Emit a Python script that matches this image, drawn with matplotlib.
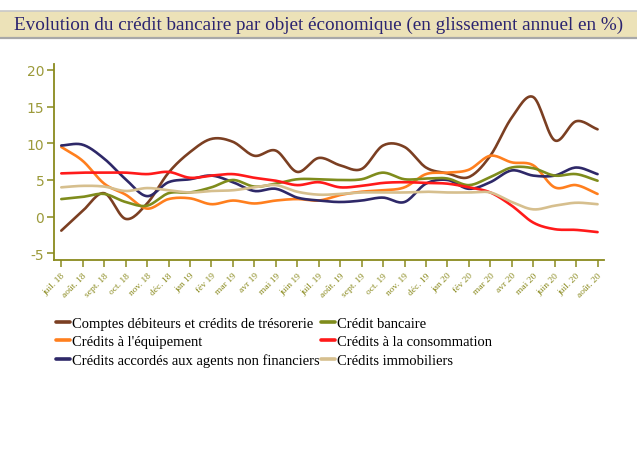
import numpy as np
import matplotlib
matplotlib.use("Agg")
import matplotlib.pyplot as plt
from matplotlib.patches import Rectangle
from matplotlib.lines import Line2D

plt.rcParams['axes.unicode_minus'] = False

months = ["juil. 18", "août. 18", "sept. 18", "oct. 18", "nov. 18", "déc. 18",
          "jan 19", "fév 19", "mar 19", "avr 19", "mai 19", "juin 19",
          "juil. 19", "août. 19", "sept. 19", "oct. 19", "nov. 19", "déc. 19",
          "jan 20", "fév 20", "mar 20", "avr 20", "mai 20", "juin 20",
          "juil. 20", "août. 20"]

comptes = [-1.9, 0.8, 3.2, -0.3, 1.8, 6.0, 8.8, 10.6, 10.2, 8.3, 9.0, 6.1, 8.0,
           7.0, 6.5, 9.7, 9.5, 6.7, 5.9, 5.4, 8.3, 13.5, 16.3, 10.4, 13.0, 11.9]
credit_bancaire = [2.4, 2.7, 3.1, 2.0, 1.5, 3.2, 3.3, 4.0, 5.0, 4.1, 4.5, 5.1, 5.1,
                   5.0, 5.1, 6.0, 5.1, 5.2, 5.2, 4.3, 5.4, 6.7, 6.6, 5.6, 5.8, 4.9]
equipement = [9.5, 7.6, 4.5, 3.0, 1.1, 2.4, 2.5, 1.7, 2.2, 1.8, 2.2, 2.4, 2.2,
              2.95, 3.4, 3.6, 4.0, 5.8, 6.0, 6.4, 8.3, 7.4, 7.0, 4.0, 4.3, 3.1]
consommation = [5.9, 6.0, 6.0, 6.0, 5.8, 6.1, 5.3, 5.6, 5.8, 5.3, 4.9, 4.3, 4.7,
                4.0, 4.2, 4.6, 4.7, 4.6, 4.5, 4.0, 3.3, 1.5, -0.8, -1.7, -1.8, -2.1]
agents_nf = [9.7, 9.8, 7.9, 5.1, 2.8, 4.7, 5.1, 5.6, 4.7, 3.5, 3.8, 2.6, 2.2,
             2.0, 2.2, 2.6, 2.0, 4.5, 5.0, 3.8, 4.7, 6.3, 5.6, 5.6, 6.7, 5.8]
immobiliers = [4.0, 4.2, 4.1, 3.5, 3.9, 3.6, 3.3, 3.5, 3.6, 4.0, 4.3, 3.4, 3.0,
               3.1, 3.3, 3.3, 3.3, 3.4, 3.3, 3.3, 3.3, 2.0, 1.0, 1.5, 1.9, 1.7]

# order = legend column-wise fill (col 1 then col 2)
series = [
    ("Comptes débiteurs et crédits de trésorerie", comptes, "#7b3f22"),
    ("Crédits à l'équipement", equipement, "#ff7f1e"),
    ("Crédits accordés aux agents non financiers", agents_nf, "#2e2868"),
    ("Crédit bancaire", credit_bancaire, "#7f8c1c"),
    ("Crédits à la consommation", consommation, "#ff1a1a"),
    ("Crédits immobiliers", immobiliers, "#d6bf8e"),
]


def smooth(x, y, n=16):
    # catmull-rom curve through the points, only for drawing
    x = np.asarray(x, float)
    y = np.asarray(y, float)
    xp = np.concatenate([[2 * x[0] - x[1]], x, [2 * x[-1] - x[-2]]])
    yp = np.concatenate([[2 * y[0] - y[1]], y, [2 * y[-1] - y[-2]]])
    t = np.linspace(0, 1, n, endpoint=False)
    xs, ys = [], []
    for i in range(1, len(xp) - 2):
        for arr, out in ((xp, xs), (yp, ys)):
            p0, p1, p2, p3 = arr[i - 1], arr[i], arr[i + 1], arr[i + 2]
            out.append(0.5 * (2 * p1 + (-p0 + p2) * t
                              + (2 * p0 - 5 * p1 + 4 * p2 - p3) * t ** 2
                              + (-p0 + 3 * p1 - 3 * p2 + p3) * t ** 3))
    xs.append([x[-1]])
    ys.append([y[-1]])
    return np.concatenate(xs), np.concatenate(ys)


fig = plt.figure(figsize=(6.37, 4.52), dpi=100)

# title band
fig.patches.append(Rectangle((0, 1 - 38 / 452), 1, 26 / 452, transform=fig.transFigure,
                             facecolor="#ece2b8", edgecolor="none", zorder=0))
fig.add_artist(Line2D([0, 1], [1 - 12 / 452] * 2, color="#c8c8c8", lw=1.2))
fig.add_artist(Line2D([0, 1], [1 - 38.5 / 452] * 2, color="#a8a8a8", lw=1.6))
fig.text(0.5, 1 - 25.5 / 452, "Evolution du crédit bancaire par objet économique (en glissement annuel en %)",
         ha="center", va="center", fontsize=13.8, color="#2b2470",
         family="Liberation Serif")

ax = fig.add_axes([54 / 637, 1 - 261 / 452, 550 / 637, 196 / 452])
x = np.arange(len(months))
handles = []
for name, vals, col in series:
    sx, sy = smooth(x, vals)
    h, = ax.plot(sx, sy, color=col, lw=1.9, label=name, solid_capstyle="round")
    handles.append(h)

axis_col = "#8a8a1e"
ax.set_xlim(-0.34, 25.3)
ax.set_ylim(-5.9, 20.8)
ax.set_yticks([-5, 0, 5, 10, 15, 20])
ax.set_xticks(x)
ax.set_xticklabels(months, rotation=45, ha="right", rotation_mode="anchor",
                   fontsize=6.8, color="#b8b266", family="Liberation Serif")
ax.tick_params(axis="y", colors=axis_col, labelcolor="#9c9a3a", labelsize=10,
               length=5, width=1.1, pad=2)
ax.tick_params(axis="x", colors=axis_col, length=5, width=1.1, pad=3)
for s in ("top", "right"):
    ax.spines[s].set_visible(False)
for s in ("left", "bottom"):
    ax.spines[s].set_color(axis_col)
    ax.spines[s].set_linewidth(1.3)

leg = fig.legend(handles=handles, loc="upper left", bbox_to_anchor=(50 / 637, 1 - 312 / 452),
                 ncol=2, frameon=False, prop={"family": "Liberation Serif", "size": 10.5},
                 handlelength=0.95, handletextpad=0.15, columnspacing=0.1,
                 labelspacing=0.35, borderaxespad=0)
for line in leg.get_lines():
    line.set_linewidth(2.6)

fig.savefig("out.png", dpi=100)
